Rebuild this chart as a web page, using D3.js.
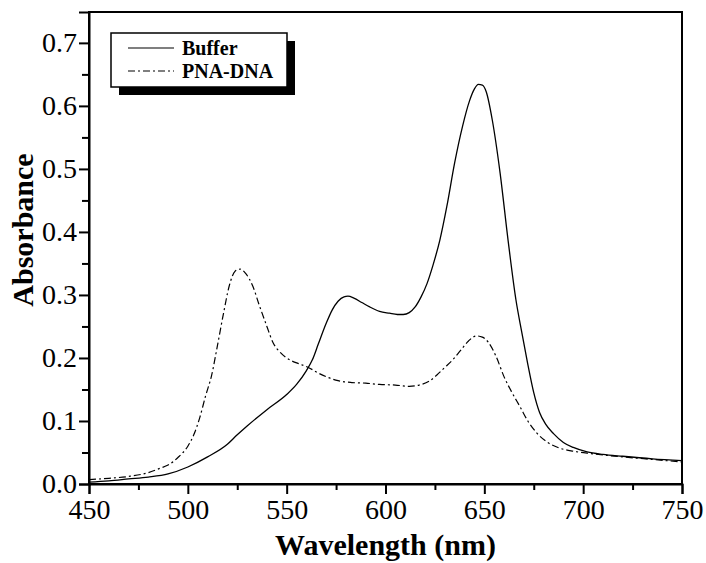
<!DOCTYPE html>
<html><head><meta charset="utf-8">
<script src="https://cdn.jsdelivr.net/npm/d3@7"></script>
<style>body{margin:0;background:#fff}svg{display:block}
svg text{font-family:"Liberation Serif","Times New Roman",Times,serif}</style>
</head><body>
<script>
const seriesNames = ["Buffer", "PNA-DNA"];
const bufferWl = [450,460,470,480,490,500,510,520,525,530,540,550,555,560,563,566,570,573,576,579,581,584,588,592,597,602,606,609,612,615,618,621,624,627.5,631,635,639,642.5,645,647,649,651,654,658,662,666,669,672,675,678,681,685,690,695,702,710,720,735,750];
const bufferAbs = [0.003,0.005,0.008,0.011,0.016,0.027,0.043,0.063,0.078,0.092,0.118,0.142,0.158,0.180,0.197,0.222,0.255,0.276,0.290,0.297,0.298,0.295,0.288,0.281,0.274,0.271,0.269,0.269,0.272,0.281,0.297,0.318,0.347,0.387,0.440,0.510,0.568,0.608,0.627,0.634,0.633,0.622,0.578,0.493,0.387,0.292,0.240,0.190,0.145,0.113,0.095,0.080,0.066,0.058,0.051,0.047,0.044,0.040,0.037];
const pnaWl = [450,460,470,480,486,490,495,500,503,506,509,512,515,518,521,524,526.5,529,533,536,540,543,547,551,556,561,566,571,576,583,590,597,605,612,617,622,626,630,634,638,642,646,649,652,656,660,664,668,672,676.5,682,688,695,702,710,720,735,750];
const pnaAbs = [0.007,0.009,0.012,0.018,0.025,0.030,0.042,0.060,0.078,0.105,0.140,0.172,0.220,0.270,0.315,0.338,0.341,0.335,0.313,0.285,0.250,0.225,0.208,0.198,0.191,0.185,0.176,0.169,0.164,0.161,0.160,0.158,0.157,0.155,0.157,0.163,0.173,0.185,0.197,0.212,0.227,0.235,0.233,0.225,0.202,0.170,0.145,0.123,0.100,0.081,0.066,0.057,0.052,0.049,0.046,0.043,0.039,0.035];
const xTicks = [450,500,550,600,650,700,750];
const xMinor = [475,525,575,625,675,725];
const yTicks = [0.0,0.1,0.2,0.3,0.4,0.5,0.6,0.7];
const yMinor = [0.05,0.15,0.25,0.35,0.45,0.55,0.65];
const xTitle = "Wavelength (nm)";
const yTitle = "Absorbance";

const W = 706, H = 563;
const m = {left: 89, right: 706-682, top: 12, bottom: 563-484};
const svg = d3.select("body").append("svg").attr("width", W).attr("height", H);
const x = d3.scaleLinear().domain([450, 750]).range([m.left, W - m.right]);
const y = d3.scaleLinear().domain([0, 0.749]).range([H - m.bottom, m.top]);

// frame
svg.append("rect").attr("x", x(450)).attr("y", y(0.749)).attr("width", x(750)-x(450)).attr("height", y(0)-y(0.749))
  .attr("fill", "none").attr("stroke", "#000").attr("stroke-width", 2);

// x axis
const xa = svg.append("g").attr("transform", `translate(0,${y(0)})`)
  .call(d3.axisBottom(x).tickValues(xTicks).tickSize(10).tickPadding(5).tickFormat(d3.format("d")));
xa.select(".domain").attr("stroke-width", 2);
xa.selectAll(".tick line").attr("stroke-width", 2);
xa.selectAll("text").attr("font-family", null).attr("font-size", 28).attr("fill", "#000");
svg.append("g").attr("transform", `translate(0,${y(0)})`)
  .call(d3.axisBottom(x).tickValues(xMinor).tickSize(6).tickFormat(""))
  .call(g => g.select(".domain").remove())
  .selectAll(".tick line").attr("stroke-width", 2);

// y axis
const ya = svg.append("g").attr("transform", `translate(${x(450)},0)`)
  .call(d3.axisLeft(y).tickValues(yTicks).tickSize(10).tickPadding(2).tickFormat(d3.format(".1f")));
ya.select(".domain").attr("stroke-width", 2);
ya.selectAll(".tick line").attr("stroke-width", 2);
ya.selectAll("text").attr("font-family", null).attr("font-size", 28).attr("fill", "#000");
svg.append("g").attr("transform", `translate(${x(450)},0)`)
  .call(d3.axisLeft(y).tickValues(yMinor).tickSize(7).tickFormat(""))
  .call(g => g.select(".domain").remove())
  .selectAll(".tick line").attr("stroke-width", 2);

// titles
svg.append("text").attr("x", (x(450)+x(750))/2).attr("y", 555).attr("text-anchor", "middle")
  .attr("font-weight", "bold").attr("font-size", 30).text(xTitle);
svg.append("text").attr("transform", `translate(33,${(y(0)+y(0.749))/2 - 18}) rotate(-90)`).attr("text-anchor", "middle")
  .attr("font-weight", "bold").attr("font-size", 30).text(yTitle);

// lines
const line = d3.line().x(d => x(d[0])).y(d => y(d[1])).curve(d3.curveMonotoneX);
const bufferData = bufferWl.map((w, i) => [w, bufferAbs[i]]);
const pnaData = pnaWl.map((w, i) => [w, pnaAbs[i]]);
svg.append("path").datum(bufferData).attr("d", line).attr("fill", "none").attr("stroke", "#000").attr("stroke-width", 1.3);
svg.append("path").datum(pnaData).attr("d", line).attr("fill", "none").attr("stroke", "#000").attr("stroke-width", 1.2)
  .attr("stroke-dasharray", "7,3,2,3");

// legend
const lg = svg.append("g");
lg.append("rect").attr("x", 119).attr("y", 41).attr("width", 176).attr("height", 54).attr("fill", "#000");
lg.append("rect").attr("x", 111).attr("y", 33).attr("width", 176).attr("height", 54).attr("fill", "#fff").attr("stroke", "#000").attr("stroke-width", 1.5);
const dashes = [null, "7,3,2,3"];
seriesNames.forEach((n, i) => {
  const ly = 48 + i * 23;
  lg.append("line").attr("x1", 128).attr("x2", 174).attr("y1", ly).attr("y2", ly)
    .attr("stroke", "#000").attr("stroke-width", 1.2).attr("stroke-dasharray", dashes[i]);
  lg.append("text").attr("x", 182).attr("y", ly + 7).attr("font-weight", "bold")
    .attr("font-size", 20).text(n);
});
</script>
</body></html>
